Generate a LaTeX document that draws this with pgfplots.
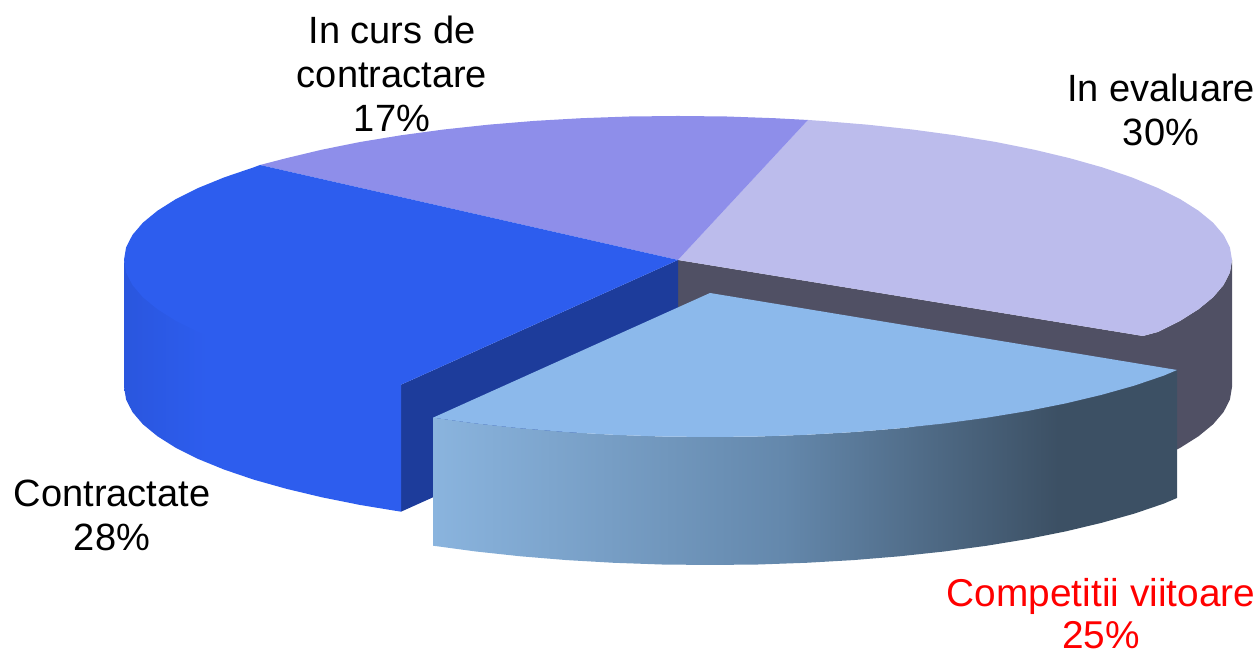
\documentclass[border=0pt]{standalone}
\usepackage{fontspec}
\setmainfont{Liberation Sans}
\usepackage{pgfplots}
\pgfplotsset{compat=1.18}
\tikzset{lab/.style={align=center,inner sep=0pt,font=\fontsize{19}{22}\selectfont}}
\definecolor{cBlue}{RGB}{45,93,238}
\definecolor{cBlueW}{RGB}{42,86,222}
\definecolor{cDark}{RGB}{29,60,155}
\definecolor{cGrey}{RGB}{80,80,100}
\definecolor{cPurple}{RGB}{142,142,234}
\definecolor{cLav}{RGB}{188,188,236}
\definecolor{cSky}{RGB}{140,185,235}
\definecolor{gA}{RGB}{138,180,222}
\definecolor{gB}{RGB}{100,136,172}
\definecolor{gC}{RGB}{60,80,100}
\pgfdeclarehorizontalshading{sliceSide}{100bp}{color(0bp)=(gA); color(25bp)=(gA); color(48.5bp)=(gB); color(67bp)=(gC); color(100bp)=(gC)}
\pgfdeclarehorizontalshading{blueSide}{100bp}{color(0bp)=(cBlueW); color(25bp)=(cBlueW); color(40bp)=(cBlue); color(100bp)=(cBlue)}
\begin{document}
\begin{tikzpicture}
\path[use as bounding box] (0,0) rectangle (630pt,326pt);
\begin{axis}[
  at={(0,0)},anchor=south west,
  width=630pt,height=326pt,scale only axis,
  xmin=0,xmax=1260,ymin=0,ymax=652,y dir=reverse,
  hide axis,clip=false,
  every axis plot/.append style={line width=0pt,mark=none}
]
% grey wall of "In evaluare"
\addplot[draw=none,fill=cGrey] coordinates {
(678,260)(1143,336)(1157.8,332)(1180.1,320.9)(1198.6,309.2)(1213.1,297.3)(1223.6,285)(1229.9,272.6)(1232,260)
(1232,387)(1229.9,399.6)(1223.6,412)(1213.1,424.3)(1198.6,436.2)(1180.1,447.9)(1157.8,459)(1143,465)(678,387)} -- cycle;
% dark inner wall of "Contractate"
\addplot[draw=none,fill=cDark] coordinates {(678,260)(401,384.7)(401,511.7)(678,387)} -- cycle;
% outer wall of "Contractate"
\addplot[draw=none,shading=blueSide] coordinates {
(124,260)(126.1,268)(132.4,279)(142.9,291)(157.4,303)(175.9,314)(198.2,325)(224.2,336)(253.6,346)(286.3,355)(321.9,363)(360.2,371)(401,378)
(401,511.7)(360.2,505)(321.9,497.3)(286.3,488.8)(253.6,479.6)(224.2,469.6)(198.2,459)(175.9,447.9)(157.4,436.2)(142.9,424.3)(132.4,412)(126.1,399.6)(124,387)} -- cycle;
% top: In evaluare 30%
\addplot[draw=none,fill=cLav] coordinates {
(678,260)(1143,336)(1157.8,332)(1180.1,320.9)(1198.6,309.2)(1213.1,297.3)(1223.6,285)(1229.9,272.6)(1232,260)(1229.9,247.4)(1223.6,235)(1213.1,222.7)(1198.6,210.8)(1180.1,199.1)(1157.8,188)(1131.8,177.4)(1102.4,167.4)(1069.7,158.2)(1034.1,149.7)(995.8,142)(955,135.3)(912.1,129.5)(867.5,124.7)(821.4,120.9)(808,120)} -- cycle;
% top: In curs de contractare 17%
\addplot[draw=none,fill=cPurple] coordinates {
(678,260)(808,120)(774.2,118.2)(726.3,116.5)(678,116)(629.7,116.5)(581.8,118.2)(534.6,120.9)(488.5,124.7)(443.9,129.5)(401,135.3)(360.2,142)(321.9,149.7)(286.3,158.2)(260,165)} -- cycle;
% top: Contractate 28%
\addplot[draw=none,fill=cBlue] coordinates {
(678,260)(260,165)(253.6,167.4)(224.2,177.4)(198.2,188)(175.9,199.1)(157.4,210.8)(142.9,222.7)(132.4,235)(126.1,247.4)(124,260)(126.1,272.6)(132.4,285)(142.9,297.3)(157.4,309.2)(175.9,320.9)(198.2,332)(224.2,342.6)(253.6,352.6)(286.3,361.8)(321.9,370.3)(360.2,378)(401,384.7)} -- cycle;
% exploded slice: side
\addplot[draw=none,shading=sliceSide] coordinates {
(1177,370)(1163.8,375.6)(1134.4,385.6)(1101.7,394.8)(1066.1,403.3)(1027.8,411)(987,417.7)(944.1,423.5)(899.5,428.3)(853.4,432.1)(806.2,434.8)(758.3,436.5)(710,437)(661.7,436.5)(613.8,434.8)(566.6,432.1)(520.5,428.3)(475.9,423.5)(433,417.7)
(433,545.7)(475.9,551.5)(520.5,556.3)(566.6,560.1)(613.8,562.8)(661.7,564.5)(710,565)(758.3,564.5)(806.2,562.8)(853.4,560.1)(899.5,556.3)(944.1,551.5)(987,545.7)(1027.8,539)(1066.1,531.3)(1101.7,522.8)(1134.4,513.6)(1163.8,503.6)(1177,498)} -- cycle;
% exploded slice: top
\addplot[draw=none,fill=cSky] coordinates {
(710,293)(1177,370)(1163.8,375.6)(1134.4,385.6)(1101.7,394.8)(1066.1,403.3)(1027.8,411)(987,417.7)(944.1,423.5)(899.5,428.3)(853.4,432.1)(806.2,434.8)(758.3,436.5)(710,437)(661.7,436.5)(613.8,434.8)(566.6,432.1)(520.5,428.3)(475.9,423.5)(433,417.7)} -- cycle;
\node[lab] at (axis cs:392,74) {In curs de\\contractare\\17\%};
\node[lab] at (axis cs:1161,110) {In evaluare\\30\%};
\node[lab] at (axis cs:112,515) {Contractate\\28\%};
\node[lab,text=red,font=\fontsize{19.4}{21}\selectfont] at (axis cs:1101,614) {Competitii viitoare\\25\%};
\end{axis}
\end{tikzpicture}
\end{document}
